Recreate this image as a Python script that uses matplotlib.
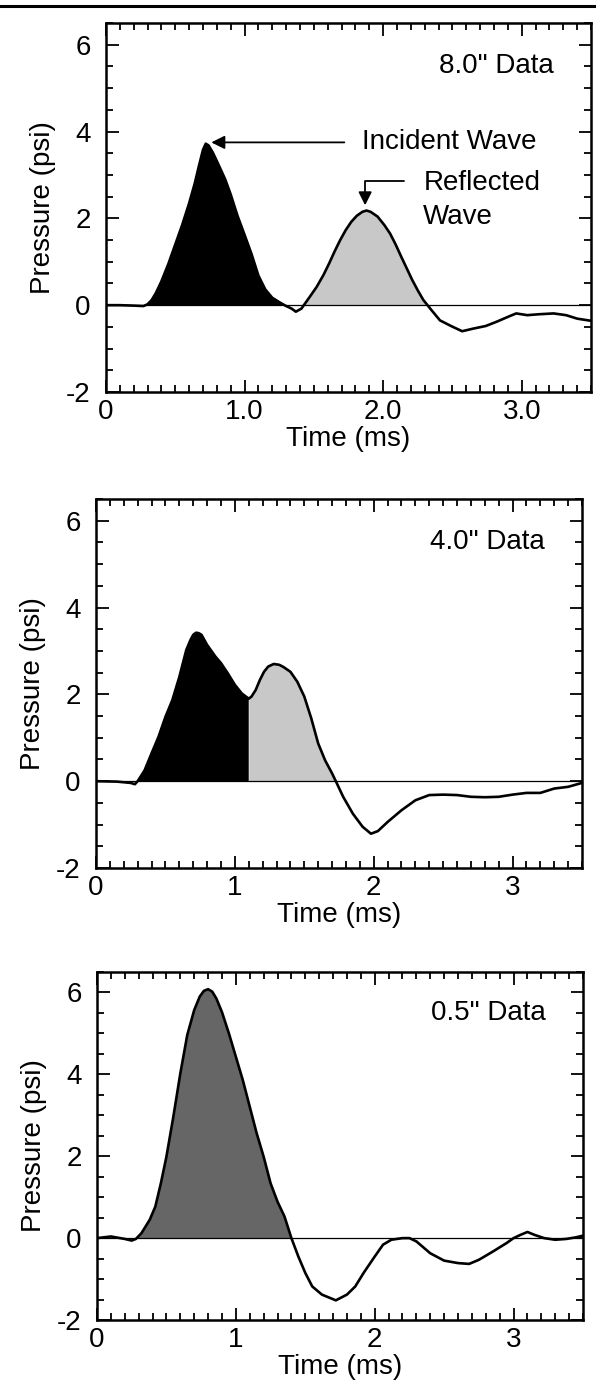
import numpy as np
import matplotlib
matplotlib.use("Agg")
import matplotlib.pyplot as plt
from matplotlib.lines import Line2D
from matplotlib.ticker import MultipleLocator

plt.rcParams["font.family"] = ["Liberation Sans", "DejaVu Sans"]
plt.rcParams["axes.unicode_minus"] = False

# 8.0" data
t8 = [0.0, 0.10, 0.20, 0.27, 0.30, 0.33, 0.36, 0.40, 0.45, 0.50, 0.55, 0.60, 0.64,
      0.67, 0.70, 0.72, 0.74, 0.77, 0.81, 0.86, 0.90, 0.95, 1.00, 1.05, 1.10, 1.15,
      1.20, 1.25, 1.30, 1.34, 1.37, 1.41, 1.47, 1.52, 1.57, 1.61, 1.65, 1.69, 1.73,
      1.77, 1.81, 1.85, 1.88, 1.91, 1.96, 2.01, 2.05, 2.09, 2.13, 2.17, 2.21, 2.25,
      2.29, 2.34, 2.41, 2.49, 2.57, 2.65, 2.74, 2.82, 2.90, 2.96, 3.04, 3.12, 3.23,
      3.32, 3.40, 3.50]
p8 = [0.0, 0.0, -0.01, -0.02, 0.02, 0.12, 0.28, 0.55, 0.95, 1.40, 1.85, 2.35, 2.80,
      3.20, 3.58, 3.72, 3.68, 3.52, 3.25, 2.90, 2.55, 2.05, 1.62, 1.18, 0.68, 0.36,
      0.17, 0.07, -0.02, -0.08, -0.15, -0.08, 0.19, 0.42, 0.70, 0.96, 1.24, 1.50, 1.73,
      1.92, 2.06, 2.15, 2.18, 2.15, 2.04, 1.84, 1.65, 1.40, 1.12, 0.85, 0.58, 0.34,
      0.12, -0.08, -0.35, -0.48, -0.60, -0.54, -0.48, -0.38, -0.27, -0.19, -0.23, -0.21, -0.19,
      -0.23, -0.31, -0.36]

# 4.0" data
t4 = [0.0, 0.15, 0.25, 0.28, 0.30, 0.35, 0.40, 0.45, 0.50, 0.55, 0.60, 0.65, 0.68,
      0.70, 0.72, 0.74, 0.76, 0.80, 0.86, 0.90, 0.95, 1.00, 1.05, 1.10, 1.12, 1.15,
      1.18, 1.21, 1.24, 1.28, 1.32, 1.35, 1.40, 1.45, 1.50, 1.55, 1.60, 1.65, 1.70,
      1.73, 1.78, 1.85, 1.92, 1.98, 2.03, 2.10, 2.20, 2.30, 2.40, 2.50, 2.60, 2.70,
      2.80, 2.90, 3.00, 3.10, 3.20, 3.30, 3.40, 3.50]
p4 = [0.0, -0.01, -0.04, -0.07, 0.0, 0.25, 0.64, 1.02, 1.48, 1.87, 2.40, 3.02, 3.25,
      3.37, 3.42, 3.41, 3.37, 3.14, 2.87, 2.72, 2.48, 2.22, 2.02, 1.90, 1.95, 2.10,
      2.33, 2.52, 2.64, 2.70, 2.68, 2.63, 2.52, 2.29, 1.95, 1.45, 0.87, 0.48, 0.18,
      -0.02, -0.36, -0.75, -1.05, -1.21, -1.15, -0.94, -0.67, -0.44, -0.32, -0.31, -0.32, -0.36,
      -0.37, -0.36, -0.31, -0.27, -0.27, -0.17, -0.13, -0.04]

# 0.5" data
t05 = [0.0, 0.10, 0.20, 0.25, 0.28, 0.32, 0.38, 0.42, 0.46, 0.50, 0.55, 0.60, 0.65,
       0.70, 0.74, 0.77, 0.80, 0.83, 0.86, 0.90, 0.95, 1.00, 1.05, 1.10, 1.15, 1.20,
       1.25, 1.30, 1.35, 1.40, 1.45, 1.50, 1.55, 1.62, 1.72, 1.80, 1.86, 1.92, 2.00,
       2.06, 2.12, 2.20, 2.25, 2.30, 2.40, 2.50, 2.60, 2.68, 2.75, 2.85, 2.95, 3.00,
       3.05, 3.10, 3.15, 3.22, 3.30, 3.38, 3.45, 3.50]
p05 = [0.0, 0.04, -0.02, -0.06, -0.02, 0.12, 0.45, 0.77, 1.34, 1.99, 2.97, 4.02, 4.96,
       5.57, 5.90, 6.04, 6.08, 6.02, 5.85, 5.52, 5.00, 4.43, 3.86, 3.21, 2.56, 1.99,
       1.34, 0.89, 0.53, 0.0, -0.45, -0.85, -1.18, -1.38, -1.52, -1.38, -1.18, -0.85, -0.45,
       -0.16, -0.04, 0.0, 0.0, -0.08, -0.37, -0.55, -0.61, -0.63, -0.53, -0.33, -0.12, 0.0,
       0.08, 0.15, 0.08, 0.0, -0.04, -0.02, 0.02, 0.06]

labels_dec = ["0", "1.0", "2.0", "3.0"]
labels_int = ["0", "1", "2", "3"]

FS = 20

fig = plt.figure(figsize=(5.99, 13.84), dpi=100)
W, H = 599, 1384


def make_axes(left, right, top, bottom):
    return fig.add_axes([left / W, 1 - bottom / H, (right - left) / W, (bottom - top) / H])


def style_axes(ax, xlabels, title):
    ax.set_xlim(0, 3.5)
    ax.set_ylim(-2, 6.5)
    ax.set_xticks([0, 1, 2, 3], labels=xlabels)
    ax.set_yticks([-2, 0, 2, 4, 6])
    ax.xaxis.set_minor_locator(MultipleLocator(0.1))
    ax.yaxis.set_minor_locator(MultipleLocator(0.5))
    ax.tick_params(which="both", direction="in", top=True, right=True,
                   width=1.3, labelsize=FS)
    ax.tick_params(which="major", length=9)
    ax.tick_params(which="minor", length=5)
    ax.tick_params(axis="x", pad=5)
    ax.tick_params(axis="y", pad=11)
    for s in ax.spines.values():
        s.set_linewidth(1.8)
    ax.axhline(0, color="black", lw=0.9, zorder=1)
    ax.set_xlabel("Time (ms)", fontsize=FS, labelpad=1)
    ax.set_ylabel("Pressure (psi)", fontsize=FS, labelpad=7)
    ax.text(3.23, 5.5, title, fontsize=FS, ha="right", va="center")


def draw_curve(ax, t, p):
    ax.plot(t, p, color="black", lw=1.9, zorder=3,
            solid_joinstyle="round", solid_capstyle="round")


# top rule
fig.add_artist(Line2D([0, 594 / W], [1 - 6 / H, 1 - 6 / H], color="black", lw=2.2))

# panel 1
ax1 = make_axes(106, 591, 23, 392)
t, p = np.array(t8), np.array(p8)
ax1.fill_between(t, p, 0, where=(t <= 1.30) & (p > -0.03), interpolate=True,
                 color="black", lw=0)
ax1.fill_between(t, p, 0, where=(t >= 1.41) & (t <= 2.34) & (p > -0.1), interpolate=True,
                 color="#c8c8c8", lw=0)
draw_curve(ax1, t, p)
style_axes(ax1, labels_dec, '8.0" Data')
ax1.annotate("", xy=(0.76, 3.75), xytext=(1.72, 3.75),
             arrowprops=dict(arrowstyle="-|>", color="black", lw=1.3, mutation_scale=20,
                             shrinkA=0, shrinkB=0))
ax1.text(1.85, 3.75, "Incident Wave", fontsize=FS, ha="left", va="center")
ax1.annotate("", xy=(1.87, 2.30), xytext=(2.15, 2.87),
             arrowprops=dict(arrowstyle="-|>", color="black", lw=1.3, mutation_scale=20,
                             shrinkA=0, shrinkB=0,
                             connectionstyle="angle,angleA=0,angleB=90,rad=0"))
ax1.text(2.29, 2.82, "Reflected", fontsize=FS, ha="left", va="center")
ax1.text(2.29, 2.03, "Wave", fontsize=FS, ha="left", va="center")

# panel 2
ax2 = make_axes(96, 582, 499, 868)
t, p = np.array(t4), np.array(p4)
ax2.fill_between(t, p, 0, where=(t <= 1.10) & (p > -0.03), interpolate=True,
                 color="black", lw=0)
ax2.fill_between(t, p, 0, where=(t >= 1.10) & (t <= 1.73) & (p > -0.05), interpolate=True,
                 color="#c8c8c8", lw=0)
draw_curve(ax2, t, p)
style_axes(ax2, labels_int, '4.0" Data')

# panel 3
ax3 = make_axes(97, 583, 972, 1320)
t, p = np.array(t05), np.array(p05)
ax3.fill_between(t, p, 0, where=(t >= 0.28) & (t <= 1.40) & (p > -0.03), interpolate=True,
                 color="#666666", lw=0)
draw_curve(ax3, t, p)
style_axes(ax3, labels_int, '0.5" Data')

fig.savefig("out.png", dpi=100)
